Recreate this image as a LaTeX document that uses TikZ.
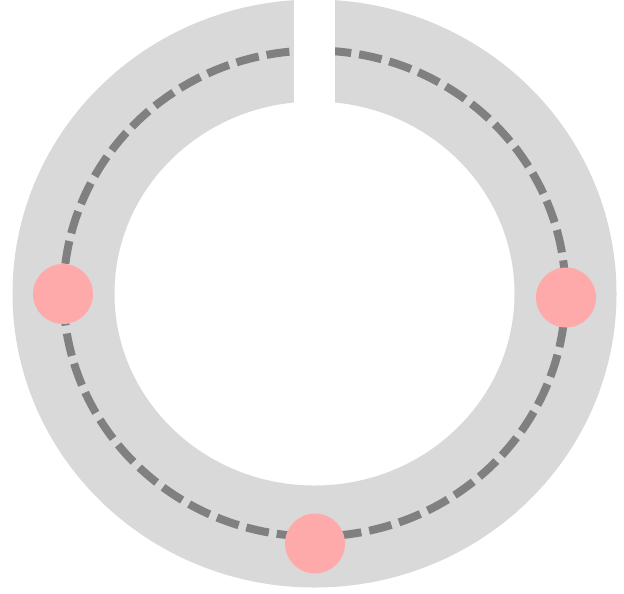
\documentclass[tikz,border=0pt]{standalone}
\definecolor{ringgray}{RGB}{217,217,217}
\definecolor{dashgray}{RGB}{128,128,128}
\definecolor{dotpink}{RGB}{255,170,170}
\begin{document}
\begin{tikzpicture}[x=0.75pt,y=-0.75pt,
  band/.style={draw=ringgray,line width=76.5pt},
  track/.style={draw=dashgray,line width=6pt,dash pattern=on 17.25pt off 6pt},
  stop/.style={circle,fill=dotpink,minimum size=45pt,inner sep=0pt}]
\useasboundingbox (0,0) rectangle (624,593);
\coordinate (c) at (314.5,293.5);
\draw[band] (c) ellipse [x radius=251, y radius=243];
\draw[track] (c) ellipse [x radius=251, y radius=243];
\fill[white] (294,-5) rectangle (335,110);
\node[stop] (s1) at (63,294) {};
\node[stop] (s2) at (566,297.5) {};
\node[stop] (s3) at (315,543.5) {};
\end{tikzpicture}
\end{document}
